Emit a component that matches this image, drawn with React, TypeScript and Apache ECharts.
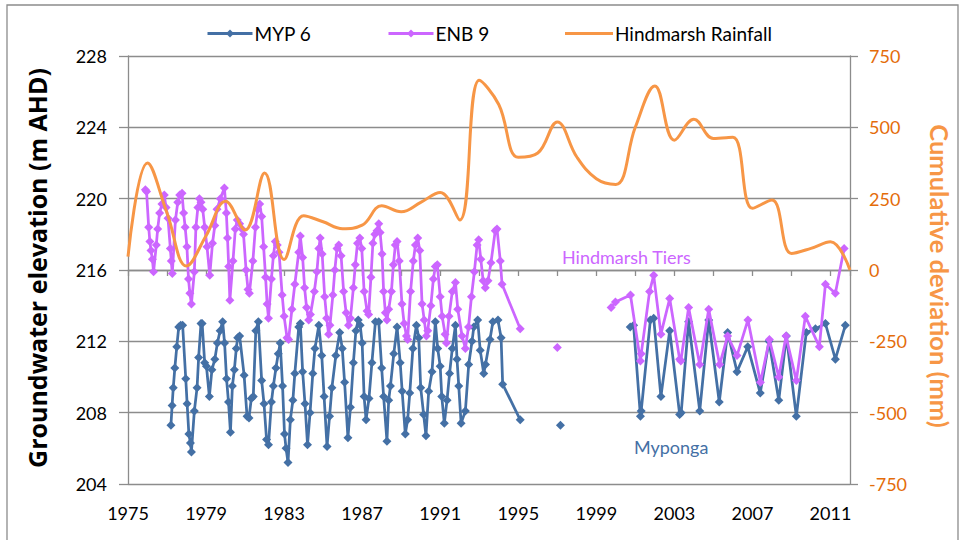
import React, { useEffect, useRef } from "react";
import * as echarts from "echarts";

// ---------- DATA ----------
const yearTicks = [1975, 1979, 1983, 1987, 1991, 1995, 1999, 2003, 2007, 2011];

// MYP 6 groundwater elevation (m AHD), [decimal year, value]; null = no reading
const myp6: [number, number | null][] = [
  [1977.2, 207.3], [1977.26, 208.4], [1977.32, 209.4], [1977.4, 210.5], [1977.5, 211.7], [1977.6, 212.8], [1977.7, 212.9], [1977.8, 212.9],
  [1977.96, 209.9], [1978.03, 208.5], [1978.12, 206.8], [1978.2, 206.3], [1978.25, 205.8],
  [1978.4, 208.1], [1978.54, 209.4], [1978.62, 211.1], [1978.74, 213.0], [1978.8, 213.0],
  [1978.93, 210.8], [1979.02, 210.6], [1979.17, 208.9],
  [1979.3, 210.4], [1979.45, 211.0], [1979.58, 211.9], [1979.72, 212.6], [1979.85, 213.1],
  [1979.95, 211.9], [1980.05, 209.9], [1980.15, 208.6], [1980.25, 206.9],
  [1980.35, 209.5], [1980.45, 210.4], [1980.55, 211.6], [1980.62, 212.2], [1980.72, 212.3],
  [1980.95, 210.1], [1981.1, 207.8], [1981.2, 207.7], [1981.32, 208.8], [1981.42, 208.9],
  [1981.55, 212.6], [1981.68, 213.1],
  [1981.85, 209.8], [1981.97, 208.5], [1982.1, 206.5], [1982.2, 206.2],
  [1982.35, 208.6], [1982.45, 209.5], [1982.58, 210.5], [1982.7, 211.3], [1982.8, 211.9],
  [1982.92, 209.5], [1983.02, 206.8], [1983.1, 206.0], [1983.2, 205.2],
  [1983.32, 207.6], [1983.45, 208.7], [1983.55, 210.2], [1983.75, 212.8], [1983.83, 213.0],
  [1983.95, 210.3], [1984.07, 208.5], [1984.2, 206.2],
  [1984.33, 208.0], [1984.47, 210.2], [1984.58, 211.6], [1984.78, 212.9],
  [1984.93, 211.2], [1985.05, 208.9], [1985.2, 206.1],
  [1985.33, 207.8], [1985.45, 209.4], [1985.65, 211.2], [1985.85, 212.5],
  [1985.98, 211.6], [1986.1, 209.7], [1986.27, 206.6],
  [1986.4, 208.3], [1986.55, 210.8], [1986.68, 212.6], [1986.8, 213.2], [1986.9, 212.9],
  [1987.0, 211.9], [1987.1, 208.9], [1987.2, 207.6],
  [1987.35, 208.8], [1987.5, 210.8], [1987.68, 213.1], [1987.85, 213.1],
  [1988.0, 210.5], [1988.1, 208.9], [1988.27, 206.4],
  [1988.36, 208.7], [1988.45, 209.5], [1988.62, 211.3], [1988.79, 212.8],
  [1988.95, 210.8], [1989.05, 209.2], [1989.21, 206.8], [1989.33, 207.6],
  [1989.44, 209.1], [1989.6, 211.6], [1989.78, 212.9], [1989.9, 212.2],
  [1990.0, 209.4], [1990.15, 207.9], [1990.27, 206.7],
  [1990.41, 209.2], [1990.58, 210.3], [1990.75, 213.1], [1990.87, 211.6],
  [1991.0, 210.6], [1991.08, 208.9], [1991.21, 207.4],
  [1991.35, 208.7], [1991.48, 210.2], [1991.62, 211.6], [1991.78, 212.9],
  [1991.86, 211.0], [1991.95, 209.5], [1992.07, 207.4], [1992.29, 208.1],
  [1992.46, 210.7], [1992.63, 212.0], [1992.72, 212.8], [1992.92, 213.2],
  [1993.05, 211.5], [1993.23, 210.2], [1993.32, 210.7], [1993.55, 212.1], [1993.7, 213.1], [1993.96, 213.2],
  [1994.12, 212.2], [1994.2, 209.6], [1995.1, 207.6],
  [1996.0, null], [1997.16, 207.3], [1999.0, null],
  [2000.74, 212.8], [2000.91, 212.9], [2001.26, 207.8], [2001.3, 208.1], [2001.77, 213.2], [2001.94, 213.3],
  [2002.31, 208.9], [2002.76, 212.6], [2003.27, 207.9], [2003.35, 208.0], [2003.73, 213.1], [2004.3, 208.1],
  [2004.76, 213.2], [2005.3, 208.6], [2005.73, 212.5], [2006.21, 210.3], [2006.76, 211.7], [2007.4, 209.1],
  [2007.85, 212.0], [2008.35, 208.7], [2008.74, 212.3], [2009.25, 207.8], [2009.76, 212.5], [2010.23, 212.7],
  [2010.74, 213.0], [2011.25, 211.0], [2011.76, 212.9],
];

// ENB 9 groundwater elevation (m AHD)
const enb9: [number, number | null][] = [
  [1975.89, 220.5], [1975.95, 220.4], [1976.06, 218.4], [1976.12, 217.6], [1976.18, 217.1], [1976.25, 216.6], [1976.31, 215.9],
  [1976.45, 217.4], [1976.52, 218.3], [1976.62, 219.2], [1976.74, 219.7], [1976.86, 220.2],
  [1976.95, 219.5], [1977.05, 218.9], [1977.17, 217.2], [1977.22, 216.5], [1977.27, 215.8],
  [1977.43, 218.8], [1977.55, 219.8], [1977.65, 220.2], [1977.77, 220.3],
  [1977.85, 219.2], [1977.93, 218.4], [1978.02, 217.3], [1978.1, 215.5], [1978.17, 214.7], [1978.25, 214.1],
  [1978.4, 215.9], [1978.48, 218.4], [1978.58, 219.5], [1978.66, 220.0], [1978.74, 219.8], [1978.83, 219.4],
  [1978.93, 218.4], [1979.05, 217.3], [1979.19, 215.7],
  [1979.33, 217.5], [1979.45, 218.5], [1979.56, 219.4], [1979.73, 220.0], [1979.94, 220.6],
  [1980.04, 219.2], [1980.1, 217.8], [1980.16, 216.2], [1980.22, 214.3],
  [1980.38, 216.5], [1980.5, 218.3], [1980.6, 218.8], [1980.72, 218.6], [1980.84, 218.3], [1980.92, 218.0],
  [1981.05, 216.0], [1981.15, 214.9], [1981.22, 214.7],
  [1981.4, 216.5], [1981.53, 218.4], [1981.65, 219.4], [1981.75, 219.7], [1981.85, 219.0],
  [1981.95, 217.3], [1982.05, 215.6], [1982.13, 214.1], [1982.2, 213.3],
  [1982.35, 215.5], [1982.45, 216.8], [1982.55, 217.6], [1982.65, 217.4], [1982.74, 217.0],
  [1982.9, 214.6], [1983.0, 213.4], [1983.15, 212.2], [1983.23, 212.1],
  [1983.4, 213.8], [1983.55, 215.2], [1983.75, 217.0], [1983.83, 217.9], [1983.95, 216.7],
  [1984.05, 215.0], [1984.15, 213.9], [1984.26, 213.2], [1984.35, 213.5],
  [1984.55, 214.8], [1984.68, 215.9], [1984.78, 217.2], [1984.85, 217.8], [1984.95, 216.9],
  [1985.08, 214.5], [1985.18, 213.3], [1985.28, 212.4], [1985.35, 212.9],
  [1985.5, 214.6], [1985.6, 216.0], [1985.71, 217.2], [1985.8, 217.4], [1985.92, 216.8],
  [1986.05, 214.8], [1986.18, 213.6], [1986.3, 212.9], [1986.4, 213.3],
  [1986.55, 215.0], [1986.65, 216.3], [1986.76, 217.5], [1986.88, 217.8], [1986.98, 217.2],
  [1987.1, 214.8], [1987.25, 213.7], [1987.33, 213.5],
  [1987.45, 215.6], [1987.55, 217.5], [1987.65, 218.0], [1987.76, 218.2], [1987.85, 218.6], [1987.92, 218.1],
  [1988.02, 216.9], [1988.1, 214.8], [1988.19, 213.6], [1988.27, 213.2], [1988.36, 213.8],
  [1988.5, 214.8], [1988.6, 216.3], [1988.7, 217.4], [1988.79, 217.6], [1988.9, 216.5],
  [1989.04, 214.1], [1989.15, 213.0], [1989.27, 212.3], [1989.33, 212.1],
  [1989.48, 214.8], [1989.62, 216.5], [1989.73, 217.4], [1989.85, 217.8], [1989.95, 217.1],
  [1990.07, 214.1], [1990.18, 213.2], [1990.29, 212.3], [1990.36, 212.6],
  [1990.52, 214.0], [1990.65, 215.5], [1990.75, 216.2], [1990.85, 216.3],
  [1991.0, 214.5], [1991.1, 213.4], [1991.25, 212.4], [1991.32, 211.9],
  [1991.45, 213.4], [1991.62, 214.8], [1991.78, 215.3], [1991.9, 213.8],
  [1992.12, 212.3], [1992.29, 211.6], [1992.45, 212.8], [1992.6, 214.5], [1992.75, 215.9], [1992.89, 217.4], [1992.97, 217.7],
  [1993.08, 216.6], [1993.2, 215.4], [1993.31, 215.0], [1993.45, 215.4], [1993.6, 216.4], [1993.82, 218.2], [1993.91, 218.3],
  [1994.08, 216.5], [1994.17, 215.2], [1995.1, 212.7],
  [1996.0, null], [1997.0, 211.66], [1998.5, null],
  [1999.76, 213.9], [1999.98, 214.2], [2000.75, 214.6], [2001.26, 210.9], [2001.3, 211.3], [2001.73, 214.8], [2001.94, 215.7],
  [2002.31, 212.4], [2002.76, 214.4], [2003.27, 211.0], [2003.33, 210.9], [2003.73, 213.9], [2004.3, 210.7],
  [2004.76, 213.8], [2005.32, 210.7], [2005.73, 212.3], [2006.21, 211.2], [2006.77, 213.2], [2007.41, 209.7],
  [2007.87, 212.1], [2008.35, 210.0], [2008.72, 212.3], [2009.25, 209.8], [2009.71, 213.4], [2010.43, 211.7],
  [2010.74, 215.2], [2011.25, 214.7], [2011.7, 217.2],
];

// Hindmarsh rainfall cumulative deviation (mm)
const rainYears = [1975, 1976, 1977, 1978, 1979, 1980, 1981, 1982, 1983, 1984, 1985, 1986, 1987, 1988, 1989, 1990, 1991, 1992, 1993, 1994, 1995, 1996, 1997, 1998, 1999, 2000, 2001, 2002, 2003, 2004, 2005, 2006, 2007, 2008, 2009, 2010, 2011, 2012];
const rainDeviation = [47, 375, 200, 14, 120, 241, 140, 340, 37, 190, 169, 145, 157, 225, 204, 237, 272, 175, 665, 580, 395, 410, 519, 396, 320, 300, 501, 645, 455, 528, 461, 465, 216, 245, 58, 76, 99, 0];

const seriesNames = ["MYP 6", "ENB 9", "Hindmarsh Rainfall"];
const annotationTexts = ["Hindmarsh Tiers", "Myponga"];
const axisTitles = ["Groundwater elevation (m AHD)", "Cumulative deviation (mm)"];

// ---------- STYLE ----------
const BLUE = "#4470A5";
const PURPLE = "#CC66FF";
const ORANGE = "#F79646";
const ORANGE_TEXT = "#E46C0A";
const GRID = "#8C8C8C";
const FONT = "Lato, 'Open Sans', sans-serif";

export default function App() {
  const ref = useRef<HTMLDivElement>(null);

  useEffect(() => {
    if (!ref.current) return;
    const chart = echarts.init(ref.current, undefined, { renderer: "svg" });
    const rain = rainYears.map((y, i) => [y, rainDeviation[i]]);

    const legendText = { fontSize: 19, color: "#000", fontFamily: FONT, padding: [0, 0, 0, -3] };

    chart.setOption({
      animation: false,
      backgroundColor: "#fff",
      textStyle: { fontFamily: FONT },
      grid: { left: 128, right: 116, top: 56, bottom: 56, containLabel: false },
      legend: [
        {
          data: [seriesNames[0]], left: 201, top: 19,
          itemWidth: 45, itemHeight: 10, lineStyle: { width: 3 }, textStyle: legendText,
        },
        {
          data: [seriesNames[1]], left: 382, top: 19,
          itemWidth: 45, itemHeight: 10, lineStyle: { width: 3 }, textStyle: legendText,
        },
        {
          data: [{ name: seriesNames[2], icon: "rect" }], left: 560, top: 19,
          itemWidth: 48, itemHeight: 3, textStyle: legendText,
        },
      ],
      xAxis: {
        type: "value",
        min: 1975,
        max: 2012,
        interval: 2,
        axisLine: { show: true, lineStyle: { color: GRID, width: 1.3 } },
        axisTick: { show: true, length: 6, lineStyle: { color: GRID, width: 1.3 } },
        splitLine: { show: false },
        axisLabel: {
          fontSize: 18,
          color: "#000",
          margin: 20,
          formatter: (v: number) => (yearTicks.includes(v) ? String(v) : ""),
        },
      },
      yAxis: [
        {
          type: "value",
          min: 204,
          max: 228,
          interval: 4,
          axisLine: { show: true, lineStyle: { color: GRID, width: 1.3 } },
          axisTick: { show: true, length: 9, lineStyle: { color: GRID, width: 1.3 } },
          splitLine: { show: true, lineStyle: { color: GRID, width: 1.3 } },
          axisLabel: { fontSize: 18, color: "#000", margin: 21 },
        },
        {
          type: "value",
          min: -750,
          max: 750,
          interval: 250,
          position: "right",
          axisLine: { show: true, lineStyle: { color: GRID, width: 1.3 } },
          axisTick: { show: true, length: 8, lineStyle: { color: GRID, width: 1.3 } },
          splitLine: { show: false },
          axisLabel: { fontSize: 18, color: ORANGE_TEXT, margin: 19 },
        },
      ],
      series: [
        {
          name: seriesNames[0],
          type: "line",
          yAxisIndex: 0,
          data: myp6,
          connectNulls: false,
          symbol: "diamond",
          symbolSize: 9,
          showSymbol: true,
          lineStyle: { color: BLUE, width: 2.75 },
          itemStyle: { color: BLUE },
          z: 2,
        },
        {
          name: seriesNames[1],
          type: "line",
          yAxisIndex: 0,
          data: enb9,
          connectNulls: false,
          symbol: "diamond",
          symbolSize: 9,
          showSymbol: true,
          lineStyle: { color: PURPLE, width: 2.75 },
          itemStyle: { color: PURPLE },
          z: 3,
        },
        {
          name: seriesNames[2],
          type: "line",
          yAxisIndex: 1,
          data: rain,
          smooth: 0.4,
          symbol: "none",
          lineStyle: { color: ORANGE, width: 3 },
          itemStyle: { color: ORANGE },
          z: 4,
        },
      ],
      graphic: [
        {
          type: "rect",
          silent: true,
          shape: { x: 7, y: 5, width: 951, height: 560 },
          style: { fill: "none", stroke: "#8C8C8C", lineWidth: 1.3 },
        },
        {
          type: "text",
          x: 37,
          y: 268,
          rotation: Math.PI / 2,
          style: {
            text: axisTitles[0],
            fill: "#000",
            font: `bold 25px 'Open Sans', Lato, sans-serif`,
            textAlign: "center",
            textVerticalAlign: "middle",
          },
        },
        {
          type: "text",
          x: 940,
          y: 276,
          rotation: -Math.PI / 2,
          style: {
            text: axisTitles[1],
            fill: ORANGE,
            font: `bold 25.5px ${FONT}`,
            textAlign: "center",
            textVerticalAlign: "middle",
          },
        },
        {
          type: "text",
          x: 562,
          y: 257,
          style: {
            text: annotationTexts[0],
            fill: PURPLE,
            font: `18px ${FONT}`,
            textAlign: "left",
            textVerticalAlign: "middle",
          },
        },
        {
          type: "text",
          x: 634,
          y: 447,
          style: {
            text: annotationTexts[1],
            fill: BLUE,
            font: `18px ${FONT}`,
            textAlign: "left",
            textVerticalAlign: "middle",
          },
        },
      ],
    });

    return () => chart.dispose();
  }, []);

  return (
    <div
      ref={ref}
      style={{ position: "fixed", left: 0, top: 0, width: 966, height: 540, background: "#fff" }}
    />
  );
}
